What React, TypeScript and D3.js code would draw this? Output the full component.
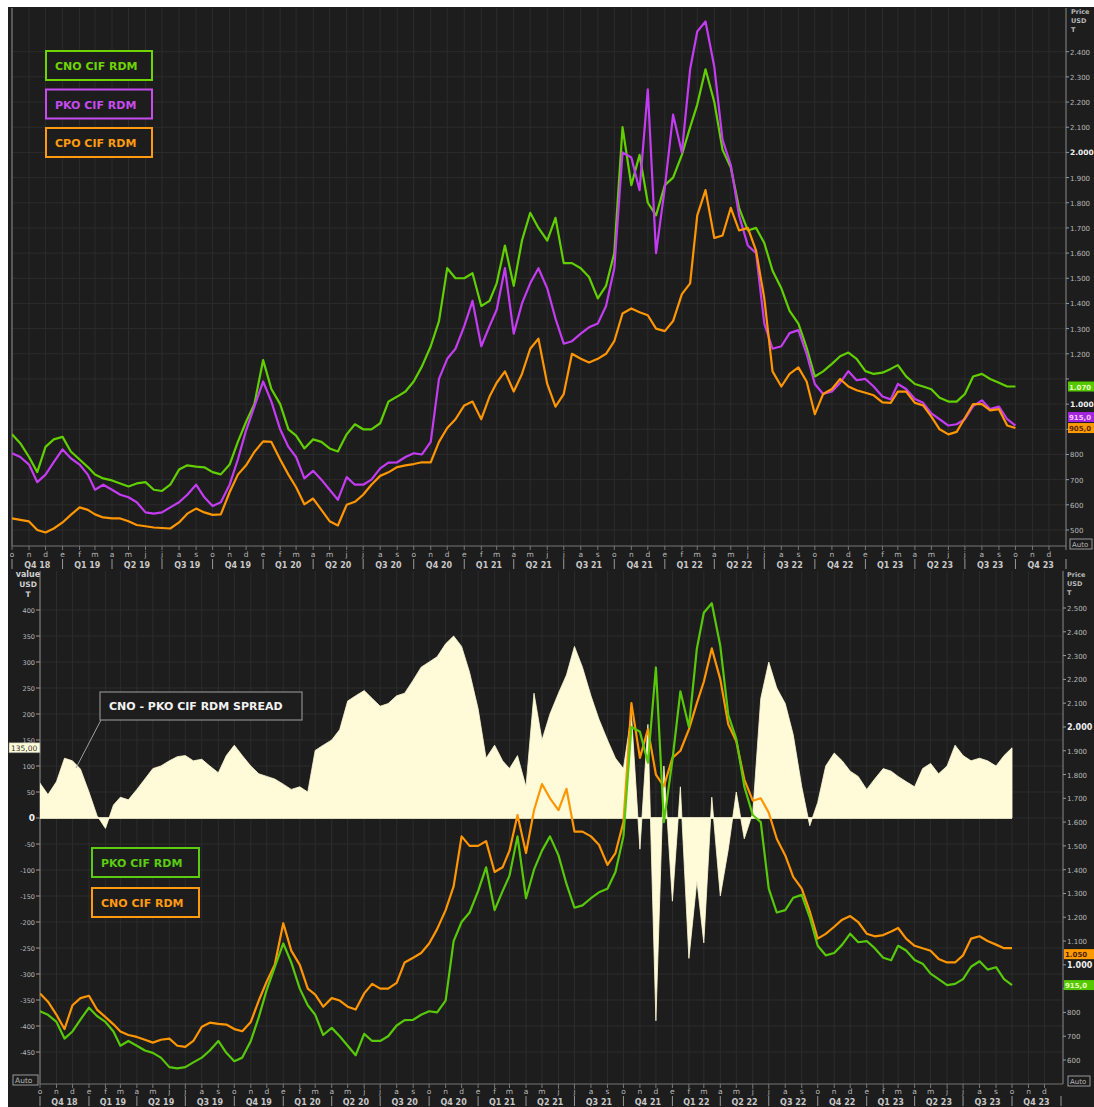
import React from "react";
import * as d3 from "d3";

document.body.style.margin = "0";
document.body.style.overflow = "hidden";

const W = 1094;
const H = 1107;
const FONT = "'DejaVu Sans', Verdana, sans-serif";

// semi-monthly samples, 1 Oct 2018 .. 1 Oct 2023
const sampleDates = d3.range(121).map((i) => new Date(2018, 9 + Math.floor(i / 2), i % 2 === 0 ? 1 : 16));

const cnoPrice = [
  880, 845, 790, 730, 830, 860, 870, 812, 780, 750,
  720, 705, 697, 685, 673, 685, 690, 660, 655, 680,
  740, 757, 752, 749, 730, 721, 760, 850, 930, 1000,
  1175, 1060, 1000, 900, 875, 824, 860, 850, 824, 812,
  880, 920, 900, 900, 924, 1010, 1030, 1050, 1090, 1150,
  1230, 1330, 1540, 1500, 1500, 1520, 1390, 1410, 1480, 1630,
  1470, 1650, 1760, 1700, 1650, 1740, 1560, 1560, 1540, 1505,
  1420, 1470, 1600, 2100, 1870, 1990, 1800, 1750, 1870, 1900,
  1990, 2100, 2190, 2330, 2200, 2010, 1940, 1780, 1690, 1700,
  1640, 1530, 1460, 1370, 1320, 1225, 1110, 1130, 1160, 1190,
  1205, 1180, 1131, 1120, 1125, 1140, 1155, 1110, 1080, 1070,
  1059, 1025, 1010, 1010, 1040, 1110, 1120, 1100, 1085, 1070,
  1070,
];

const pkoPrice = [
  805, 790, 760, 690, 720, 770, 820, 785, 760, 720,
  660, 680, 660, 640, 630, 610, 570, 565, 570, 590,
  610, 640, 680, 630, 595, 610, 680, 780, 896, 990,
  1090, 1010, 900, 830, 790, 705, 735, 700, 660, 620,
  710, 680, 680, 700, 745, 768, 769, 790, 805, 800,
  850, 1100, 1180, 1220, 1310, 1410, 1230, 1310, 1375, 1540,
  1280, 1400, 1480, 1540, 1460, 1340, 1240, 1250, 1280, 1305,
  1320, 1390, 1540, 2000, 1980, 1850, 2250, 1600, 1860, 2150,
  2000, 2330, 2480, 2520, 2340, 2050, 1950, 1750, 1630, 1600,
  1320, 1220, 1230, 1282, 1294, 1200, 1080, 1040, 1050, 1085,
  1131, 1095, 1100, 1070, 1030, 1019, 1080, 1060, 1020, 1005,
  963, 940, 915, 920, 940, 992, 1015, 980, 990, 940,
  915,
];

const cpoPrice = [
  546, 540, 534, 500, 490, 506, 530, 560, 590, 580,
  562, 550, 546, 546, 535, 520, 515, 510, 508, 506,
  530, 565, 585, 570, 560, 562, 650, 720, 757, 810,
  852, 850, 780, 720, 670, 602, 625, 580, 535, 518,
  600, 612, 640, 680, 715, 729, 750, 757, 762, 769,
  769, 850, 905, 940, 995, 1010, 940, 1030, 1085, 1130,
  1050, 1120, 1220, 1260, 1080, 990, 1040, 1200, 1180, 1165,
  1180, 1200, 1250, 1360, 1380, 1365, 1353, 1300, 1290, 1330,
  1437, 1480, 1750, 1850, 1660, 1670, 1780, 1690, 1700, 1610,
  1420, 1130, 1070, 1120, 1146, 1090, 960, 1040, 1060, 1100,
  1070, 1055, 1045, 1035, 1007, 1005, 1050, 1050, 1005, 995,
  950, 900, 880, 890, 945, 1000, 1000, 975, 980, 915,
  905,
];

const cnoPkoSpread = [
  67, 45, 70, 115, 110, 94, 50, 5, -20, 25,
  40, 35, 55, 75, 95, 100, 110, 118, 120, 110,
  113, 100, 87, 120, 140, 120, 100, 85, 80, 75,
  65, 55, 60, 50, 130, 140, 150, 170, 225, 235,
  245, 230, 215, 220, 235, 240, 265, 290, 300, 310,
  335, 350, 330, 280, 210, 115, 140, 110, 95, 120,
  60, 240, 150, 200, 240, 275, 330, 290, 235, 190,
  150, 115, 95, 200, -60, 180, -390, 100, -160, 60,
  -270, -120, -240, 40, -150, -60, 50, -40, 10, 230,
  300, 250, 220, 160, 60, -15, 30, 100, 125, 110,
  90, 80, 55, 75, 95, 90, 80, 70, 60, 95,
  105, 85, 100, 140, 120, 110, 115, 110, 100, 120,
  135,
];

const monthLetters = ["e", "f", "m", "a", "m", "j", "j", "a", "s", "o", "n", "d"];
const quarterLabels = [
  "Q4 18", "Q1 19", "Q2 19", "Q3 19", "Q4 19", "Q1 20", "Q2 20", "Q3 20", "Q4 20", "Q1 21", "Q2 21",
  "Q3 21", "Q4 21", "Q1 22", "Q2 22", "Q3 22", "Q4 22", "Q1 23", "Q2 23", "Q3 23", "Q4 23",
];
const topPriceTicks = d3.range(500, 2401, 100);
const bottomPriceTicks = d3.range(600, 2501, 100);
const spreadTicks = d3.range(-450, 401, 50);

const topLegend = [
  { name: "CNO CIF RDM", color: "#6fd400" },
  { name: "PKO CIF RDM", color: "#c64cf0" },
  { name: "CPO CIF RDM", color: "#ff9a10" },
];
const bottomLegend = [
  { name: "PKO CIF RDM", color: "#5ccc10" },
  { name: "CNO CIF RDM", color: "#ff9a10" },
];

const GREEN = "#62d000";
const PURPLE = "#c43cf2";
const ORANGE = "#ff9500";
const CREAM = "#fffbd8";
const BG = "#1d1d1d";
const GRID = "#2c2c2c";
const AXIS_TXT = "#b8b8b8";

const startDate = new Date(2018, 9, 1);
const endDate = new Date(2024, 0, 1);
const months = d3.timeMonth.range(startDate, endDate);
const quarters = d3.timeMonth.every(3)!.range(startDate, new Date(2024, 0, 2));

const fmt = (v: number) => (Math.abs(v) >= 1000 ? d3.format(",")(v).replace(",", ".") : String(v));

const TOP = { left: 12, right: 1066, top: 8, bottom: 546 };
const BOT = { left: 40, right: 1061, axis: 1063, top: 571, bottom: 1084 };

function TimeAxis({ x, y0, letterY, quarterY }: { x: d3.ScaleTime<number, number>; y0: number; letterY: number; quarterY: number }) {
  return (
    <g fontFamily={FONT} fill={AXIS_TXT}>
      {months.map((m, i) => (
        <g key={i}>
          <line x1={x(m)} x2={x(m)} y1={y0} y2={y0 + 4} stroke="#777" />
          <text x={x(m)} y={letterY} fontSize={7.5} textAnchor="middle">
            {monthLetters[m.getMonth()]}
          </text>
        </g>
      ))}
      {quarters.map((q, i) => (
        <line key={"s" + i} x1={x(q)} x2={x(q)} y1={quarterY - 9} y2={quarterY + 1} stroke="#999" />
      ))}
      {quarterLabels.map((lbl, i) => {
        const a = quarters[i];
        const b = d3.timeMonth.offset(a, 3);
        return (
          <text key={"q" + i} x={(x(a) + x(b)) / 2} y={quarterY} fontSize={8} fontWeight="bold" textAnchor="middle" fill="#c8c8c8">
            {lbl}
          </text>
        );
      })}
    </g>
  );
}

function EndLabel({ x, y, text, fill, color, width }: { x: number; y: number; text: string; fill: string; color: string; width: number }) {
  return (
    <g>
      <rect x={x} y={y - 5} width={width} height={10} fill={fill} />
      <text x={x + 1} y={y + 3} fontSize={7} fontWeight="bold" fontFamily={FONT} fill={color}>
        {text}
      </text>
    </g>
  );
}

function Legend({ items, x, y0, step, width }: { items: { name: string; color: string }[]; x: number; y0: number; step: number; width: number }) {
  return (
    <g fontFamily={FONT}>
      {items.map((it, i) => (
        <g key={it.name + i}>
          <rect x={x} y={y0 + i * step} width={width} height={29} fill={BG} stroke={it.color} strokeWidth={2} />
          <text x={x + 9} y={y0 + i * step + 19} fontSize={11} fontWeight="bold" fill={it.color}>
            {it.name}
          </text>
        </g>
      ))}
    </g>
  );
}

export default function App() {
  // ---------- top panel ----------
  const xTop = d3.scaleTime().domain([startDate, endDate]).range([TOP.left, TOP.right]);
  const yTop = d3.scaleLinear().domain([500, 2400]).range([530, 51.7]);
  const lineTop = (vals: number[]) =>
    d3
      .line<number>()
      .x((_, i) => xTop(sampleDates[i]))
      .y((d) => yTop(d))(vals) || "";

  // ---------- bottom panel ----------
  const xBot = d3.scaleTime().domain([startDate, endDate]).range([BOT.left, BOT.right]);
  const yBotPrice = d3.scaleLinear().domain([600, 2500]).range([1060, 608]);
  const ySpread = d3.scaleLinear().domain([0, 400]).range([818, 610]);
  const lineBot = (vals: number[]) =>
    d3
      .line<number>()
      .x((_, i) => xBot(sampleDates[i]))
      .y((d) => yBotPrice(d))(vals) || "";
  const spreadArea =
    d3
      .area<number>()
      .x((_, i) => xBot(sampleDates[i]))
      .y0(ySpread(0))
      .y1((d) => ySpread(d))(cnoPkoSpread) || "";

  // end-of-series labels on top right axis, pushed apart when they collide
  const topEnds = [
    { v: cnoPrice[cnoPrice.length - 1], fill: "#56c800", color: "#e4ffc0" },
    { v: pkoPrice[pkoPrice.length - 1], fill: "#a424e0", color: "#f3c8ff" },
    { v: cpoPrice[cpoPrice.length - 1], fill: "#ff9a00", color: "#5a2a00" },
  ]
    .map((d) => ({ ...d, y: yTop(d.v) }))
    .sort((a, b) => b.y - a.y);
  for (let i = 1; i < topEnds.length; i++) {
    if (topEnds[i - 1].y - topEnds[i].y < 11) topEnds[i].y = topEnds[i - 1].y - 11;
  }
  const fmtEnd = (v: number) => (v >= 1000 ? fmt(v) : v + ",0");

  const botEnds = [
    { v: 1045, text: "1.050", fill: "#ff9a00", color: "#4a2200" },
    { v: pkoPrice[pkoPrice.length - 1], text: fmtEnd(pkoPrice[pkoPrice.length - 1]), fill: "#56c800", color: "#e4ffc0" },
  ].map((d) => ({ ...d, y: yBotPrice(d.v) }));

  // tick labels sitting under an end-of-series box are hidden by it
  const hiddenTop = (t: number) => topEnds.some((d) => Math.abs(d.y - yTop(t)) < 8);
  const hiddenBot = (t: number) => botEnds.some((d) => Math.abs(d.y - yBotPrice(t)) < 8);

  return (
    <svg width={W} height={H} style={{ display: "block", background: "#fff" }}>
      <defs>
        <clipPath id="clipTop">
          <rect x={TOP.left} y={TOP.top} width={TOP.right - TOP.left} height={TOP.bottom - TOP.top} />
        </clipPath>
        <clipPath id="clipBot">
          <rect x={BOT.left} y={BOT.top} width={BOT.axis - BOT.left} height={BOT.bottom - BOT.top} />
        </clipPath>
      </defs>
      <rect x={8} y={7} width={W - 8} height={H - 7} fill={BG} />

      {/* ================= TOP PANEL ================= */}
      <g>
        {months.map((m, i) => (
          <line key={i} x1={xTop(m)} x2={xTop(m)} y1={TOP.top} y2={TOP.bottom} stroke={GRID} />
        ))}
        {topPriceTicks.map((t) => (
          <line key={t} x1={TOP.left} x2={TOP.right} y1={yTop(t)} y2={yTop(t)} stroke={GRID} />
        ))}
        <line x1={TOP.left} x2={TOP.left} y1={TOP.top} y2={TOP.bottom} stroke="#8a8a8a" />
        <line x1={TOP.left} x2={TOP.right} y1={TOP.bottom} y2={TOP.bottom} stroke="#777" />
        <line x1={TOP.right} x2={TOP.right} y1={TOP.top} y2={TOP.bottom + 4} stroke="#8a8a8a" />

        <g clipPath="url(#clipTop)" fill="none" strokeWidth={2.2} strokeLinejoin="round">
          <path d={lineTop(cnoPrice)} stroke={GREEN} />
          <path d={lineTop(pkoPrice)} stroke={PURPLE} />
          <path d={lineTop(cpoPrice)} stroke={ORANGE} />
        </g>

        <Legend items={topLegend} x={46} y0={51} step={38.5} width={106} />

        {/* right axis */}
        <g fontFamily={FONT}>
          {topPriceTicks.map((t) => (
            <g key={t}>
              <line x1={TOP.right} x2={TOP.right + 3} y1={yTop(t)} y2={yTop(t)} stroke="#999" />
              {!hiddenTop(t) && (
                <text
                  x={TOP.right + 4}
                  y={yTop(t) + 3}
                  fontSize={t % 1000 === 0 ? 7.5 : 7}
                  fontWeight={t % 1000 === 0 ? "bold" : "normal"}
                  fill={t % 1000 === 0 ? "#f0f0f0" : AXIS_TXT}
                >
                  {fmt(t)}
                </text>
              )}
            </g>
          ))}
          <text x={1071} y={14} fontSize={6.5} fontWeight="bold" fill={AXIS_TXT}>Price</text>
          <text x={1071} y={23} fontSize={6.5} fontWeight="bold" fill={AXIS_TXT}>USD</text>
          <text x={1071} y={32} fontSize={6.5} fontWeight="bold" fill={AXIS_TXT}>T</text>
          {topEnds.map((d, i) => (
            <EndLabel key={i} x={TOP.right + 2} y={d.y} text={fmtEnd(d.v)} fill={d.fill} color={d.color} width={W - TOP.right - 2} />
          ))}
          <rect x={1070} y={539} width={22} height={10} fill="none" stroke="#999" />
          <text x={1072} y={547} fontSize={7} fill={AXIS_TXT}>Auto</text>
        </g>

        <TimeAxis x={xTop} y0={TOP.bottom} letterY={557} quarterY={568} />
      </g>

      {/* ================= BOTTOM PANEL ================= */}
      <g>
        {months.map((m, i) => (
          <line key={i} x1={xBot(m)} x2={xBot(m)} y1={BOT.top} y2={BOT.bottom} stroke={GRID} />
        ))}
        {spreadTicks.map((t) => (
          <line key={t} x1={BOT.left} x2={BOT.axis} y1={ySpread(t)} y2={ySpread(t)} stroke={GRID} />
        ))}
        <line x1={BOT.left} x2={BOT.left} y1={BOT.top} y2={BOT.bottom} stroke="#8a8a8a" />
        <line x1={BOT.axis} x2={BOT.axis} y1={BOT.top} y2={BOT.bottom} stroke="#8a8a8a" />
        <line x1={BOT.left} x2={BOT.axis} y1={BOT.bottom} y2={BOT.bottom} stroke="#777" />

        <g clipPath="url(#clipBot)">
          <path d={spreadArea} fill={CREAM} stroke={CREAM} strokeWidth={0.8} />
          <line x1={BOT.left} x2={xBot(sampleDates[sampleDates.length - 1])} y1={ySpread(0)} y2={ySpread(0)} stroke={CREAM} strokeWidth={1.5} />
          <g fill="none" strokeWidth={2.2} strokeLinejoin="round">
            <path d={lineBot(cnoPrice)} stroke={ORANGE} />
            <path d={lineBot(pkoPrice)} stroke="#58c80a" />
          </g>
        </g>

        {/* spread annotation */}
        <line x1={101} y1={720} x2={76} y2={768} stroke="#a0a0a0" />
        <rect x={100} y={692} width={202} height={28} fill={BG} stroke="#8c8c8c" strokeWidth={1.2} />
        <text x={109} y={710} fontSize={11} fontWeight="bold" fontFamily={FONT} fill="#f2f2f2">
          CNO - PKO CIF RDM SPREAD
        </text>

        <Legend items={bottomLegend} x={92} y0={848} step={40} width={107} />

        {/* left spread axis */}
        <g fontFamily={FONT}>
          {spreadTicks.map((t) => (
            <g key={t}>
              <line x1={BOT.left - 4} x2={BOT.left} y1={ySpread(t)} y2={ySpread(t)} stroke="#999" />
              <text
                x={BOT.left - 5}
                y={ySpread(t) + 2.5}
                fontSize={t === 0 ? 9 : 6.5}
                fontWeight={t === 0 ? "bold" : "normal"}
                textAnchor="end"
                fill={t === 0 ? "#f0f0f0" : AXIS_TXT}
              >
                {t}
              </text>
            </g>
          ))}
          <rect x={9} y={ySpread(cnoPkoSpread[cnoPkoSpread.length - 1]) - 5} width={31} height={10} fill={CREAM} stroke="#888" strokeWidth={0.6} />
          <text x={11} y={ySpread(cnoPkoSpread[cnoPkoSpread.length - 1]) + 3} fontSize={7.5} fill="#333">
            {cnoPkoSpread[cnoPkoSpread.length - 1]},00
          </text>
          <text x={28} y={577} fontSize={8} fontWeight="bold" textAnchor="middle" fill="#d0d0d0">value</text>
          <text x={28} y={587} fontSize={7.5} fontWeight="bold" textAnchor="middle" fill="#d0d0d0">USD</text>
          <text x={28} y={597} fontSize={7.5} fontWeight="bold" textAnchor="middle" fill="#d0d0d0">T</text>
          <rect x={13} y={1075} width={25} height={10} fill="none" stroke="#999" />
          <text x={15} y={1083} fontSize={7.5} fill={AXIS_TXT}>Auto</text>
        </g>

        {/* right price axis */}
        <g fontFamily={FONT}>
          {bottomPriceTicks.map((t) => (
            <g key={t}>
              <line x1={BOT.axis} x2={BOT.axis + 3} y1={yBotPrice(t)} y2={yBotPrice(t)} stroke="#999" />
              {!hiddenBot(t) && (
                <text
                  x={BOT.axis + 4}
                  y={yBotPrice(t) + 3}
                  fontSize={t % 1000 === 0 ? 8 : 7}
                  fontWeight={t % 1000 === 0 ? "bold" : "normal"}
                  fill={t % 1000 === 0 ? "#f0f0f0" : AXIS_TXT}
                >
                  {fmt(t)}
                </text>
              )}
            </g>
          ))}
          <text x={1067} y={577} fontSize={6.5} fontWeight="bold" fill={AXIS_TXT}>Price</text>
          <text x={1067} y={586} fontSize={6.5} fontWeight="bold" fill={AXIS_TXT}>USD</text>
          <text x={1067} y={595} fontSize={6.5} fontWeight="bold" fill={AXIS_TXT}>T</text>
          {botEnds.map((d, i) => (
            <EndLabel key={i} x={BOT.axis + 1} y={d.y} text={d.text} fill={d.fill} color={d.color} width={W - BOT.axis - 1} />
          ))}
          <rect x={1068} y={1076} width={22} height={10} fill="none" stroke="#999" />
          <text x={1070} y={1084} fontSize={7} fill={AXIS_TXT}>Auto</text>
        </g>

        <TimeAxis x={xBot} y0={BOT.bottom} letterY={1094} quarterY={1105} />
      </g>
    </svg>
  );
}
